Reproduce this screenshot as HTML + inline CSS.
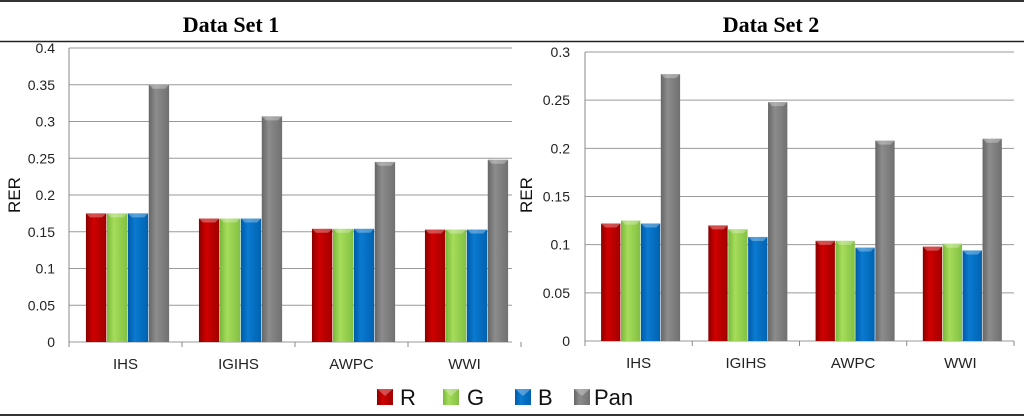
<!DOCTYPE html>
<html><head><meta charset="utf-8"><style>
body{margin:0;background:#fff;}
svg{display:block;font-family:"Liberation Sans","DejaVu Sans",sans-serif;}
</style></head><body>
<svg id="c" width="1024" height="416" xmlns="http://www.w3.org/2000/svg">
<defs>
<linearGradient id="gR" x1="0" x2="1"><stop offset="0" stop-color="#8a0000"/><stop offset="0.35" stop-color="#d00000"/><stop offset="1" stop-color="#a00000"/></linearGradient>
<linearGradient id="gG" x1="0" x2="1"><stop offset="0" stop-color="#78b83a"/><stop offset="0.35" stop-color="#a6dc5a"/><stop offset="1" stop-color="#82c043"/></linearGradient>
<linearGradient id="gB" x1="0" x2="1"><stop offset="0" stop-color="#005aa8"/><stop offset="0.35" stop-color="#0a7ad0"/><stop offset="1" stop-color="#0062b0"/></linearGradient>
<linearGradient id="gP" x1="0" x2="1"><stop offset="0" stop-color="#666"/><stop offset="0.35" stop-color="#8c8c8c"/><stop offset="1" stop-color="#707070"/></linearGradient>
</defs>
<line x1="0" y1="1" x2="1024" y2="1" stroke="#333" stroke-width="2"/>
<line x1="0" y1="41.5" x2="1024" y2="41.5" stroke="#222" stroke-width="1.5"/>
<line x1="0" y1="415" x2="1024" y2="415" stroke="#333" stroke-width="2"/>
<text x="231" y="32" text-anchor="middle" font-family="Liberation Serif,serif" font-weight="bold" font-size="22">Data Set 1</text>
<text x="771" y="32" text-anchor="middle" font-family="Liberation Serif,serif" font-weight="bold" font-size="22">Data Set 2</text>
<g id="legend"></g>
</svg>
<script>
const categories = ["IHS","IGIHS","AWPC","WWI"];
const seriesNames = ["R","G","B","Pan"];
const ds1R = [0.175,0.168,0.154,0.153];
const ds1G = [0.175,0.168,0.154,0.153];
const ds1B = [0.175,0.168,0.154,0.153];
const ds1Pan = [0.350,0.307,0.245,0.248];
const ds2R = [0.122,0.120,0.104,0.098];
const ds2G = [0.125,0.116,0.104,0.101];
const ds2B = [0.122,0.108,0.097,0.094];
const ds2Pan = [0.277,0.248,0.208,0.210];
const ticks1 = ["0","0.05","0.1","0.15","0.2","0.25","0.3","0.35","0.4"];
const ticks2 = ["0","0.05","0.1","0.15","0.2","0.25","0.3"];

const NS="http://www.w3.org/2000/svg";
const svg=document.getElementById('c');
const fills=["url(#gR)","url(#gG)","url(#gB)","url(#gP)"];
function mk(tag,attrs,parent){const e=document.createElementNS(NS,tag);for(const k in attrs)e.setAttribute(k,attrs[k]);(parent||svg).appendChild(e);return e;}

function chart(id,x0,x1,gridEnd,yTop,yBot,ymax,ticks,series,labelRight,rerX){
  const g=mk('g',{});
  
  
  const y=v=>yBot-(v/ymax)*(yBot-yTop);
  const cw=(x1-x0)/categories.length;
  const x=i=>x0+i*cw;
  ticks.forEach(t=>{
    const yy=y(parseFloat(t));
    const l=mk('line',{x1:x0,x2:gridEnd,y1:yy,y2:yy,stroke:'#9a9a9a','stroke-width':1},g);
    
    
    const tx=mk('text',{x:labelRight,y:yy+5,'text-anchor':'end','font-size':14,fill:'#222'},g);
    tx.textContent=t;
    
    
  });
  const ax=mk('line',{x1:x0,x2:x0,y1:yTop,y2:yBot+5,stroke:'#8a8a8a'},g);
  
  
  for(let i=0;i<=categories.length;i++){
    const t=mk('line',{x1:x(i),x2:x(i),y1:yBot,y2:yBot+5,stroke:'#8a8a8a'},g);
    
    
  }
  const bw=cw*0.18, off=cw*0.15;
  categories.forEach((c,i)=>{
    series.forEach((s,j)=>{
      const bx=x(i)+off+j*(bw+0.6);
      const by=y(s[i]);
      const r=mk('rect',{x:bx,y:by,width:bw,height:yBot-by,fill:fills[j]},g);
      
      
      mk('polygon',{points:`${bx},${by} ${bx+bw},${by} ${bx+bw-4},${by+4} ${bx+4},${by+4}`,fill:'#fff','fill-opacity':0.3},g);
    });
    const tl=mk('text',{x:x(i)+cw/2,y:yBot+27,'text-anchor':'middle','font-size':15,fill:'#222'},g);
    tl.textContent=c;
    
    
  });
  const rl=mk('text',{x:rerX,y:195,'text-anchor':'middle','font-size':17,fill:'#111',transform:`rotate(-90 ${rerX} 195)`},g);
  rl.textContent='RER';
  
  
}
chart('chart-data-set-1',69,521,512,48,342,0.4,ticks1,[ds1R,ds1G,ds1B,ds1Pan],55,20);
chart('chart-data-set-2',585,1014,1014,52,341,0.3,ticks2,[ds2R,ds2G,ds2B,ds2Pan],570,532);

const lg=document.getElementById('legend');
const lsq=[377,443,515,574], ltx=[400,467,538,594];
seriesNames.forEach((n,j)=>{
  const r=mk('rect',{x:lsq[j],y:389,width:16,height:16,fill:fills[j]},lg);
  
  
  mk('polygon',{points:`${lsq[j]},389 ${lsq[j]+16},389 ${lsq[j]+8},396`,fill:'#fff','fill-opacity':0.3},lg);
  const t=mk('text',{x:ltx[j],y:405,'font-size':22,fill:'#111'},lg);
  t.textContent=n;
  
  
});
</script>
</body></html>
